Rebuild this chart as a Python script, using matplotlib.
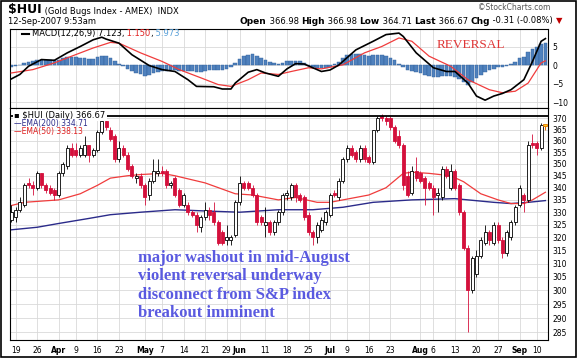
import numpy as np
import matplotlib.pyplot as plt
from matplotlib.ticker import FixedLocator, NullLocator

# daily candles, 16-Mar-2007 .. 12-Sep-2007 (trading-day index)
opens = [327, 328, 331, 333, 342, 341, 340, 346, 341, 340, 339, 337, 346, 349, 357, 356, 354, 354, 358, 354,
         356, 364, 369, 365, 362, 352, 357, 354, 349, 344, 345, 341, 337, 343, 346, 347, 347, 341, 344, 339,
         333, 333, 330, 329, 324, 328, 331, 330, 326, 322, 319, 319, 321, 334, 342, 342, 340, 337, 328, 325,
         326, 322, 326, 330, 337, 336, 341, 337, 336, 329, 322, 320, 323, 326, 329, 338, 336, 343, 352, 357,
         355, 352, 357, 353, 351, 365, 371, 370, 370, 366, 362, 358, 345, 338, 347, 346, 344, 342, 340, 337,
         336, 348, 340, 347, 341, 330, 316, 300, 306, 313, 318, 322, 318, 325, 319, 314, 320, 326, 333, 337,
         335, 359, 359, 357, 366.98]
highs = [333, 332, 336, 342, 344, 343, 347, 346, 342, 341, 340, 347, 351, 358, 359, 359, 358, 362, 358, 357,
         365, 370, 370, 366, 363, 360, 358, 355, 350, 346, 346, 342, 344, 352, 352, 349, 348, 343, 345, 340,
         338, 334, 331, 330, 329, 334, 332, 334, 327, 323, 325, 321, 335, 345, 343, 343, 341, 338, 329, 332,
         327, 327, 331, 338, 339, 342, 342, 338, 337, 330, 323, 326, 328, 331, 338, 339, 344, 353, 358, 358,
         356, 358, 358, 354, 365, 371, 372, 371, 371, 367, 365, 359, 347, 349, 353, 347, 345, 343, 341, 340,
         349, 349, 350, 348, 342, 331, 317, 313, 315, 320, 325, 323, 326, 326, 320, 323, 327, 333, 341, 338,
         360, 363, 360, 368, 366.98]
lows = [326, 326, 330, 332, 340, 337, 339, 340, 338, 337, 335, 336, 345, 348, 353, 353, 353, 353, 351, 353,
        355, 363, 365, 360, 351, 351, 353, 347, 344, 342, 340, 333, 335, 342, 345, 345, 340, 340, 336, 332,
        332, 329, 328, 322, 322, 327, 327, 325, 317, 317, 317, 317, 320, 333, 339, 339, 336, 325, 325, 320,
        321, 321, 325, 329, 335, 335, 334, 334, 327, 321, 317, 318, 322, 325, 328, 336, 335, 342, 351, 353,
        351, 351, 351, 350, 350, 364, 369, 367, 365, 359, 357, 339, 336, 337, 343, 342, 333, 339, 329, 330,
        335, 344, 339, 339, 329, 315, 285, 299, 305, 312, 317, 317, 317, 318, 312, 313, 319, 325, 332, 330,
        334, 357, 354, 356, 364.71]
closes = [330, 331, 334, 341, 341, 340, 346, 341, 339, 338, 337, 346, 350, 357, 354, 354, 357, 358, 354, 356,
          364, 369, 366, 361, 352, 357, 354, 348, 345, 345, 341, 336, 343, 347, 347, 346, 341, 342, 337, 333,
          337, 330, 329, 325, 328, 331, 329, 326, 318, 318, 320, 320, 334, 342, 340, 340, 337, 326, 326, 326,
          322, 326, 330, 337, 338, 341, 336, 335, 328, 322, 320, 325, 327, 330, 337, 337, 343, 352, 357, 354,
          352, 357, 352, 351, 365, 370, 370, 369, 366, 360, 358, 341, 337, 347, 344, 343, 340, 340, 336, 338,
          348, 345, 347, 340, 330, 316, 300, 312, 313, 319, 322, 319, 325, 319, 314, 322, 326, 332, 340, 335,
          358, 358, 357, 367, 366.67]

ema50_idx = [0, 3, 11, 16, 20, 23, 27, 30, 35, 38, 45, 52, 56, 62, 66, 71, 74, 77, 83, 87, 91, 93,
             97, 102, 105, 109, 113, 116, 119, 121, 124]
ema50_val = [332.7, 334, 335, 337.5, 341, 344, 345, 345.5, 346, 345, 342, 337.5, 337, 335, 336, 334, 334, 335,
             337, 340, 346, 346.5, 346, 345, 342.5, 337.5, 335, 333.5, 333.5, 335, 338.13]
ema200_idx = [0, 6, 11, 18, 23, 30, 38, 45, 53, 62, 70, 77, 84, 93, 103, 112, 116, 120, 124]
ema200_val = [323, 324, 325.5, 327.5, 329, 330, 331, 330.5, 330, 331, 331, 332, 334, 335, 335.5, 334, 333.5,
              334, 334.71]
resistance = 371

macd_idx = [0, 2, 4, 7, 10, 13, 16, 19, 21, 22, 25, 28, 32, 35, 38, 41, 43, 47, 49, 51, 52, 55, 57, 59, 62,
            64, 66, 68, 70, 72, 74, 76, 80, 84, 87, 90, 91, 94, 98, 101, 103, 106, 108, 110, 112, 114, 116,
            119, 121, 123, 124]
macd_val = [-3.7, -2.5, -0.3, 1.5, 1.3, 3.3, 5.0, 6.8, 7.5, 7.0, 5.9, 2.8, -0.1, -1.2, -1.7, -3.9, -5.7, -5.8,
            -6.4, -6.4, -4.8, -1.9, -1.2, -2.1, -3.0, -1.0, 0.4, 0.3, -0.7, -1.7, -1.3, 0.0, 4.1, 6.4, 8.2, 8.6,
            7.7, 3.3, -0.7, -1.7, -1.7, -4.8, -8.3, -9.4, -8.3, -7.6, -6.6, -3.9, 1.0, 6.4, 7.123]
signal_idx = [0, 5, 10, 14, 19, 23, 25, 30, 35, 39, 44, 48, 51, 55, 58, 62, 65, 69, 72, 77, 82, 86, 90, 93,
              97, 102, 106, 111, 114, 117, 120, 123, 124]
signal_val = [-2.1, -1.2, 0.6, 2.4, 4.6, 6.1, 5.9, 3.3, 1.0, -1.2, -3.4, -5.2, -5.7, -3.9, -2.1, -2.5, -1.7,
              -0.7, -1.0, 0.1, 3.3, 5.0, 7.3, 6.4, 2.4, -0.3, -3.9, -6.6, -7.4, -7.0, -4.8, 0.6, 1.15]
hist = [-0.6, -0.3, 0.1, 0.5, 0.9, 1.1, 1.4, 1.5, 1.5, 1.4, 1.3, 1.5, 1.8, 2.1, 2.2, 2.1, 1.9, 1.8, 1.6, 1.7,
        2.1, 2.5, 2.4, 1.8, 1.0, 0.3, -0.3, -1.0, -1.6, -2.1, -2.5, -2.9, -2.7, -2.2, -1.8, -1.5, -1.5, -1.2,
        -1.3, -1.6, -1.5, -1.6, -1.7, -1.9, -1.8, -1.5, -1.3, -1.2, -1.3, -1.2, -0.9, -0.5, 0.5, 1.6, 2.4, 2.8,
        2.9, 2.5, 2.0, 1.4, 0.9, 0.5, 0.4, 0.7, 1.0, 1.2, 1.2, 1.0, 0.6, -0.3, -0.6, -0.8, -0.8, -0.7, -0.4,
        0.2, 0.9, 1.8, 2.6, 3.0, 3.1, 3.0, 2.8, 2.4, 2.6, 2.8, 2.7, 2.4, 2.0, 1.3, 0.4, -0.6, -1.2, -1.5, -1.8,
        -2.2, -2.6, -2.9, -3.2, -3.1, -2.8, -2.9, -3.0, -3.3, -3.8, -4.5, -5.2, -4.4, -3.5, -2.6, -1.9, -1.4,
        -0.9, -0.6, -0.5, -0.2, 0.3, 0.9, 1.8, 2.3, 3.6, 4.4, 5.0, 5.6, 5.973]

tick_idx = [1, 6, 11, 15, 20, 25, 31, 35, 40, 45, 50, 53, 59, 64, 69, 74, 78, 83, 88, 95, 98, 103, 108,
            113, 118, 122]
tick_lbl = ["19", "26", "Apr", "9", "16", "23", "May", "7", "14", "21", "29", "Jun", "11", "18", "25",
            "Jul", "9", "16", "23", "Aug", "6", "13", "20", "27", "Sep", "10"]
price_ticks = list(range(285, 371, 5))
macd_ticks = [5, 0, -5, -10]

RED = "#d4103c"
GRID = "#d9d9d9"
W, H = 578, 358

fig = plt.figure(figsize=(W / 100, H / 100), dpi=100)


def px_axes(l, t, r, b):
    return fig.add_axes([l / W, 1 - b / H, (r - l) / W, (b - t) / H])


def fig_text(x, y, s, **kw):
    return fig.text(x / W, 1 - y / H, s, **kw)


def chain(prev, s, **kw):
    # place a text right after the previous one
    return plt.annotate(s, xy=(1, 0), xycoords=prev, va="bottom", annotation_clip=False, **kw)


# outer frame
fig.add_artist(plt.Rectangle((0.002, 0.003), 0.995, 0.994, transform=fig.transFigure,
                             fill=False, edgecolor="black", lw=1.2))

ax_m = px_axes(10, 29, 548, 108)
ax_p = px_axes(10, 108, 548, 340)

n = len(closes)
xs = np.arange(n)
xlim = (-0.3, 124.6)

# MACD panel
ax_m.bar(xs, hist, width=0.85, color="#4f81bd", edgecolor="#2f5f9a", lw=0.3, zorder=2)
ax_m.plot(signal_idx, signal_val, color="#f03c3c", lw=0.9, zorder=3)
ax_m.plot(macd_idx, macd_val, color="black", lw=1.2, zorder=4)
ax_m.set_xlim(*xlim)
ax_m.set_ylim(-11.5, 9.7)
ax_m.yaxis.set_major_locator(FixedLocator(macd_ticks))
ax_m.yaxis.tick_right()
ax_m.xaxis.set_major_locator(FixedLocator(tick_idx))
ax_m.set_xticklabels([])
ax_m.tick_params(length=0, labelsize=5.5, pad=3)
ax_m.grid(True, color=GRID, lw=0.6, zorder=0)
ax_m.set_axisbelow(True)

ax_m.plot([0.022, 0.036], [0.94, 0.94], transform=ax_m.transAxes, color="black", lw=1.5)
t = ax_m.text(0.04, 0.94, "MACD(12,26,9) 7.123,", transform=ax_m.transAxes, fontsize=6,
              va="center", ha="left")
t = chain(t, " 1.150", fontsize=6, color="#e02020")
t = chain(t, ",", fontsize=6)
chain(t, " 5.973", fontsize=6, color="#5aa0d8")
fig_text(437, 45, "REVERSAL", fontsize=9.5, color="#e03535", family="Liberation Serif",
         va="center", ha="left")

# price panel
o = np.array(opens)
c = np.array(closes)
hi = np.array(highs)
lo = np.array(lows)
up = c >= o
body_lo = np.minimum(o, c)
body_h = np.maximum(np.abs(c - o), 0.4)
last = xs == n - 1
norm_up = up & ~last
norm_dn = ~up & ~last

ax_p.vlines(xs[norm_up], lo[norm_up], hi[norm_up], color="black", lw=0.6, zorder=3)
ax_p.vlines(xs[norm_dn], lo[norm_dn], hi[norm_dn], color=RED, lw=0.6, zorder=3)
ax_p.bar(xs[norm_up], body_h[norm_up], bottom=body_lo[norm_up], width=0.7, facecolor="white",
         edgecolor="black", lw=0.6, zorder=4)
ax_p.bar(xs[norm_dn], body_h[norm_dn], bottom=body_lo[norm_dn], width=0.7, facecolor=RED,
         edgecolor=RED, lw=0.6, zorder=4)
ax_p.vlines(xs[last], lo[last], hi[last], color="#e07000", lw=0.8, zorder=3)
ax_p.bar(xs[last], np.maximum(body_h[last], 0.9), bottom=body_lo[last], width=0.9,
         facecolor="#ffd21a", edgecolor="#e07000", lw=0.6, zorder=4)

ax_p.plot(ema200_idx, ema200_val, color="#2b2b8a", lw=1.0, zorder=2)
ax_p.plot(ema50_idx, ema50_val, color="#f03c3c", lw=0.9, zorder=2)
ax_p.axhline(resistance, color="black", lw=1.3, zorder=5)

ax_p.set_yscale("log")
ax_p.set_ylim(282.4, 374.7)
ax_p.set_xlim(*xlim)
ax_p.yaxis.set_major_locator(FixedLocator(price_ticks))
ax_p.yaxis.set_minor_locator(NullLocator())
ax_p.set_yticklabels([str(v) for v in price_ticks])
ax_p.yaxis.tick_right()
ax_p.xaxis.set_major_locator(FixedLocator(tick_idx))
ax_p.set_xticklabels(tick_lbl)
for lab in ax_p.get_xticklabels():
    if not lab.get_text().isdigit():
        lab.set_fontweight("bold")
ax_p.tick_params(length=0, labelsize=5.5, pad=3)
ax_p.tick_params(axis="x", pad=4)
ax_p.grid(True, color=GRID, lw=0.6, zorder=0)
ax_p.set_axisbelow(True)

box = dict(facecolor="white", edgecolor="none", pad=0.8)
ax_p.text(0.008, 0.966, "\u25aa $HUI (Daily) 366.67", transform=ax_p.transAxes, fontsize=6,
          va="center", ha="left", bbox=box, zorder=6)
ax_p.text(0.008, 0.932, "\u2014EMA(200) 334.71", transform=ax_p.transAxes, fontsize=5.5,
          color="#2b2b8a", va="center", ha="left", zorder=6)
ax_p.text(0.008, 0.898, "\u2014EMA(50) 338.13", transform=ax_p.transAxes, fontsize=5.5,
          color="#e02020", va="center", ha="left", zorder=6)

note = ("major washout in mid-August\nviolent reversal underway\n"
        "disconnect from S&P index\nbreakout imminent")
fig_text(138, 250, note, fontsize=12, color="#5a5ae0", family="Liberation Serif",
         fontweight="bold", va="top", ha="left", linespacing=1.2)

# header
t = fig_text(8, 10, "$HUI", fontsize=9, fontweight="bold", va="center", ha="left")
chain(t, " (Gold Bugs Index - AMEX)  INDX", fontsize=6)
fig_text(8, 21, "12-Sep-2007 9:53am", fontsize=6, va="center", ha="left")
fig_text(550, 7, "\u00a9StockCharts.com", fontsize=5.5, color="#555555", va="center", ha="right")

parts = [(" 366.98 ", False, "black"), ("High", True, "black"),
         (" 366.98 ", False, "black"), ("Low", True, "black"), (" 364.71 ", False, "black"),
         ("Last", True, "black"), (" 366.67 ", False, "black"), ("Chg", True, "black"),
         (" -0.31 (-0.08%) ", False, "black"), ("\u25bc", False, "#c00000")]
prev = fig_text(240, 21, "Open", fontsize=6.5, fontweight="bold", va="center", ha="left")
for s, b, col in parts:
    prev = chain(prev, s, fontsize=6.5 if b else 6, fontweight="bold" if b else "normal", color=col)

fig.savefig("out.png", dpi=100)
